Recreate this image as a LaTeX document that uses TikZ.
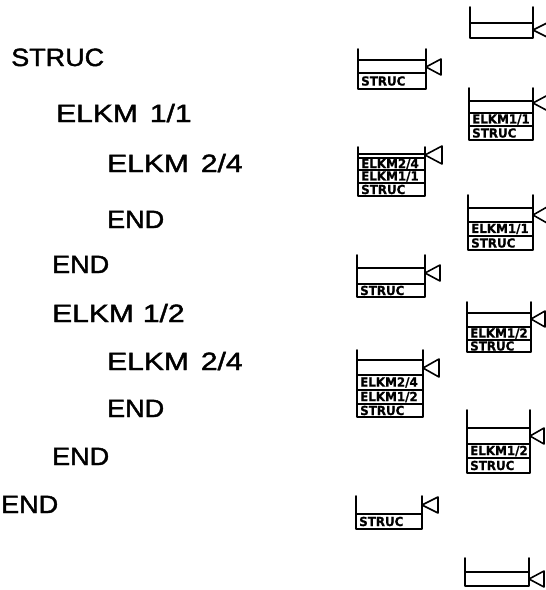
\documentclass[tikz,border=0pt]{standalone}
\usepackage{fontspec}
\usepackage{graphicx}
\setmainfont{Liberation Sans}
\newfontfamily\progfont[FakeBold=1.5]{Liberation Sans}
\newfontfamily\rowfont[FakeBold=0.8]{DejaVu Sans}
\newcommand\sxa[1]{\scalebox{1.2}[1]{#1}}
\newcommand\sxb[1]{\scalebox{1.08}[1]{#1}}
\tikzset{
  ln/.style={line width=1.6pt, line cap=round, line join=round},
  prog/.style={font=\progfont\fontsize{25}{30}\selectfont, inner sep=0pt, anchor=base west},
  rowlab/.style={font=\rowfont\bfseries\fontsize{12.5}{13}\selectfont, inner sep=0pt, anchor=west},
}
% container: xL, xR, top, bottom
\newcommand\cont[4]{\draw[ln] (#1,#3) -- (#1,#4) -- (#2,#4) -- (#2,#3);}
% slot line: xL, xR, y
\newcommand\slotline[3]{\draw[ln] (#1,#3) -- (#2,#3);}
% entry: name, xL, xR, ytop, ybottom, text
\newcommand\entry[6]{\draw[ln] (#2,#4) -- (#3,#4);
  \node[rowlab] (#1) at ({#2+3},{(#4+#5)/2}) {\scalebox{0.95}[1]{#6}};}
% pointer: apex x, apex y, base x, half height
\newcommand\ptr[4]{\draw[ln] (#1,#2) -- (#3,{#2-#4}) -- (#3,{#2+#4}) -- cycle;}
\begin{document}
\begin{tikzpicture}[x=1pt,y={(0pt,-1pt)}]
\useasboundingbox (0,0) rectangle (546,590);
% program text
\node[prog] (p1) at (11,66) {\sxb{STRUC}};
\node[prog] (p2) at (56,122) {\sxa{ELKM\hspace{0.4em}1/1}};
\node[prog] (p3) at (107,172) {\sxa{ELKM\hspace{0.4em}2/4}};
\node[prog] (p4) at (107,228) {\sxb{END}};
\node[prog] (p5) at (52,273) {\sxb{END}};
\node[prog] (p6) at (52,322) {\sxa{ELKM\hspace{0.3em}1/2}};
\node[prog] (p7) at (107,370) {\sxa{ELKM\hspace{0.4em}2/4}};
\node[prog] (p8) at (107,417) {\sxb{END}};
\node[prog] (p9) at (52,465) {\sxb{END}};
\node[prog] (p10) at (1,513) {\sxb{END}};
% column 1 stacks
% A
\cont{358}{426}{49}{89}
\slotline{358}{426}{60}
\entry{a1}{358}{426}{73}{89}{STRUC}
\ptr{426}{67}{441}{8}
% B
\cont{358}{425}{147}{196}
\slotline{358}{425}{154}
\entry{b1}{358}{425}{158}{170}{ELKM2/4}
\entry{b2}{358}{425}{170}{183}{ELKM1/1}
\entry{b3}{358}{425}{183}{196}{STRUC}
\ptr{425}{155}{442}{9}
% C
\cont{357}{425}{255}{297}
\slotline{357}{425}{268}
\entry{c1}{357}{425}{284}{297}{STRUC}
\ptr{425}{273}{440}{8}
% D
\cont{357}{423}{350}{417}
\slotline{357}{423}{360}
\entry{d1}{357}{423}{375}{390}{ELKM2/4}
\entry{d2}{357}{423}{390}{404}{ELKM1/2}
\entry{d3}{357}{423}{404}{417}{STRUC}
\ptr{423}{368}{439}{9}
% E
\cont{356}{422}{496}{529}
\entry{e1}{356}{422}{514}{529}{STRUC}
\ptr{422}{505}{438}{8}
% column 2 stacks
% F
\cont{470}{533}{7}{38}
\slotline{470}{533}{23}
\ptr{533}{30}{549}{8}
% G
\cont{469}{533}{88}{140}
\slotline{469}{533}{101}
\entry{g1}{469}{533}{113}{126}{ELKM1/1}
\entry{g2}{469}{533}{126}{140}{STRUC}
\ptr{533}{103}{548}{8}
% H
\cont{468}{533}{195}{250}
\slotline{468}{533}{208}
\entry{h1}{468}{533}{222}{236}{ELKM1/1}
\entry{h2}{468}{533}{236}{250}{STRUC}
\ptr{533}{215}{547}{8}
% I
\cont{467}{531}{302}{352}
\slotline{467}{531}{313}
\entry{i1}{467}{531}{327}{340}{ELKM1/2}
\entry{i2}{467}{531}{340}{352}{STRUC}
\ptr{531}{319}{545}{8}
% J
\cont{467}{530}{410}{473}
\slotline{467}{530}{428}
\entry{j1}{467}{530}{444}{458}{ELKM1/2}
\entry{j2}{467}{530}{458}{473}{STRUC}
\ptr{530}{436}{544}{8}
% K
\cont{465}{529}{558}{586}
\slotline{465}{529}{572}
\ptr{529}{579}{544}{8}
\end{tikzpicture}
\end{document}
